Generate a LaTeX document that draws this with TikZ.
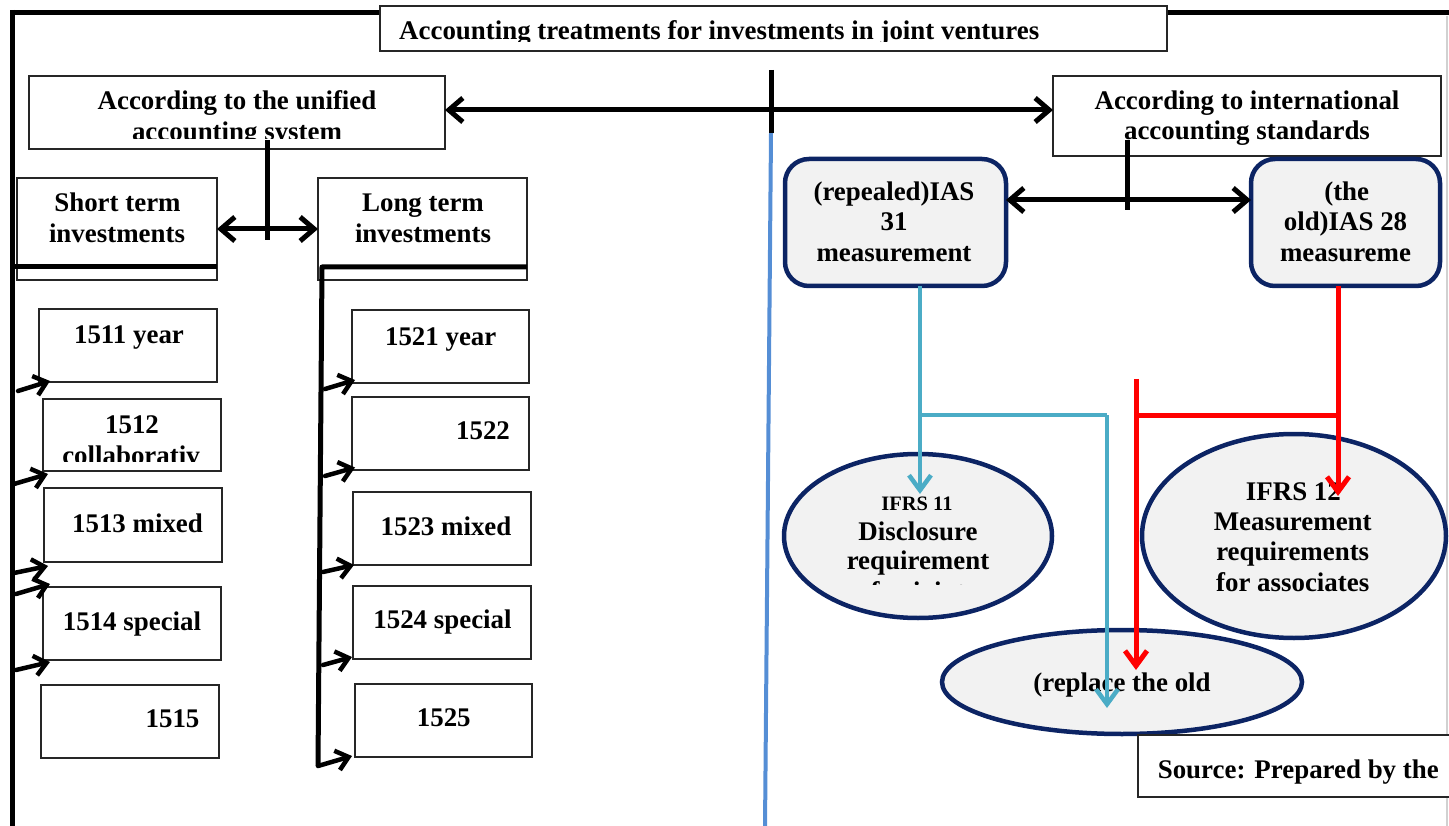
\documentclass[tikz,border=0pt]{standalone}
\usepackage{fontspec}
\setmainfont{Liberation Serif}
\usetikzlibrary{arrows.meta,shapes.geometric,fit,calc}
\definecolor{navy}{RGB}{12,36,100}
\definecolor{boxfill}{RGB}{242,242,242}
\definecolor{tealc}{RGB}{75,172,198}
\definecolor{redc}{RGB}{255,0,0}
\definecolor{bluel}{RGB}{85,142,213}
\tikzset{
 box/.style={draw=black!85, line width=1.3pt, fill=white, inner sep=0pt, outer sep=0pt},
 rbox/.style={draw=navy, line width=4.5pt, fill=boxfill, rounded corners=24pt, inner sep=0pt, outer sep=0pt},
 ell/.style={ellipse, draw=navy, line width=4.5pt, fill=boxfill, inner sep=0pt, outer sep=0pt},
 txt/.style={font=\fontsize{26.9pt}{30.5pt}\selectfont\bfseries, inner sep=0pt, anchor=base},
 stxt/.style={font=\fontsize{20.5pt}{24pt}\selectfont\bfseries, inner sep=0pt, anchor=base},
 blk/.style={line width=5pt, black},
 dbl/.style={blk, {Straight Barb[length=14pt,width=24pt]}-{Straight Barb[length=14pt,width=24pt]}, line cap=round, line join=round},
 sarr/.style={line width=4.5pt, black, -{Straight Barb[length=12pt,width=20pt]}, line cap=round, line join=round},
 tline/.style={line width=4.5pt, tealc},
 tarr/.style={tline, -{Straight Barb[length=15pt,width=22pt]}, line join=round},
 rline/.style={line width=5pt, redc},
 rarr/.style={rline, -{Straight Barb[length=15pt,width=22pt]}, line join=round},
}
\begin{document}
\begin{tikzpicture}[x=1pt,y=-1pt]
\useasboundingbox (0,0) rectangle (1449,826);

% frame
\coordinate (fTL) at (10,12.5);
\coordinate (fTR) at (1449,12.5);
\coordinate (fL) at (12,10);
\coordinate (fBL) at (12,828);
\draw[blk] (fTL) -- (fTR);
\draw[blk] (fL) -- (fBL);
\draw[black!18, line width=2pt] (1447,16) -- (1447,826);

% central tick and blue divider
\coordinate (tickTop) at (771,70);
\coordinate (tickc) at (771,110);
\coordinate (tickBot) at (771,133);
\coordinate (blueEnd) at (765,828);
\draw[bluel, line width=4pt] (tickBot) -- (blueEnd);

% ---------- boxes ----------
\node[box, fit={(380,6) (1167,51)}] (title) {};
\begin{scope}
\clip (380,0) rectangle (1167,41.8);
\node[txt, anchor=base west] (titleT) at (399,40) {Accounting treatments for investments in joint ventures};
\end{scope}

\node[box, fit={(29,76) (445,149)}] (unified) {};
\begin{scope}
\clip (29,76) rectangle (445,138.5);
\node[txt] (unifiedA) at (237,110) {According to the unified};
\node[txt] (unifiedB) at (237,140.5) {accounting system};
\end{scope}

\node[box, fit={(1053,76) (1441,156)}] (intl) {};
\node[txt] (intlA) at (1247,110) {According to international};
\node[txt] (intlB) at (1247,140) {accounting standards};

\node[box, fit={(17,178) (217,280)}] (short) {};
\node[txt] (shortA) at (117.5,212) {Short term};
\node[txt] (shortB) at (117,243) {investments};

\node[box, fit={(318,178) (527,280)}] (long) {};
\node[txt] (longA) at (423,212) {Long term};
\node[txt] (longB) at (423,243) {investments};

% left column
\node[box, fit={(39,309) (217,382)}] (b1511) {};
\node[txt] (t1511) at (129,344) {1511 year};
\node[box, fit={(43,399) (221,471)}] (b1512) {};
\node[txt] (t1512) at (132,433) {1512};
\begin{scope}
\clip (43,399) rectangle (221,461);
\node[txt] (t1512b) at (131,464) {collaborativ};
\end{scope}
\node[box, fit={(44,488) (222,562)}] (b1513) {};
\node[txt] (t1513) at (137.5,532) {1513 mixed};
\node[box, fit={(43,587) (221,660)}] (b1514) {};
\node[txt] (t1514) at (132,630) {1514 special};
\node[box, fit={(41,685) (219,758)}] (b1515) {};
\node[txt] (t1515) at (172.5,727) {1515};

% right column
\node[box, fit={(352,310) (529,383)}] (b1521) {};
\node[txt] (t1521) at (440.7,345.6) {1521 year};
\node[box, fit={(352,397) (529,470)}] (b1522) {};
\node[txt] (t1522) at (483,439.5) {1522};
\node[box, fit={(353,492) (531,565)}] (b1523) {};
\node[txt] (t1523) at (446,535) {1523 mixed};
\node[box, fit={(353,586) (531,659)}] (b1524) {};
\node[txt] (t1524) at (442.5,628) {1524 special};
\node[box, fit={(355,684) (532,757)}] (b1525) {};
\node[txt] (t1525) at (443.75,726) {1525};

% IAS boxes
\node[rbox, fit={(785,159) (1006,286)}] (ias31) {};
\node[txt] (ias31A) at (894,201) {(repealed)IAS};
\node[txt] (ias31B) at (894,231) {31};
\node[txt] (ias31C) at (894,262) {measurement};
\node[rbox, fit={(1251,159) (1440,286)}] (ias28) {};
\node[txt] (ias28A) at (1346.7,201) {(the};
\node[txt] (ias28B) at (1345.5,231) {old)IAS 28};
\node[txt] (ias28C) at (1345.5,262) {measureme};

% ellipses
\node[ell, minimum width=268pt, minimum height=164pt] (ifrs11) at (918,536) {};
\node[stxt] (ifrs11A) at (917,510) {IFRS 11};
\node[txt] (ifrs11B) at (918,540) {Disclosure};
\node[txt] (ifrs11C) at (918,569.7) {requirement};
\begin{scope}
\clip (800,575) rectangle (1040,584);
\node[txt] (ifrs11D) at (918,600) {for joint};
\end{scope}

\node[ell, minimum width=304pt, minimum height=204pt] (ifrs12) at (1294,536) {};
\node[txt] (ifrs12A) at (1293.4,500) {IFRS 12};
\node[txt] (ifrs12B) at (1292.7,530.7) {Measurement};
\node[txt] (ifrs12C) at (1292.7,560.3) {requirements};
\node[txt] (ifrs12D) at (1292.7,591) {for associates};

\node[ell, minimum width=360pt, minimum height=104pt] (replace) at (1122,682) {};
\node[txt] (replaceT) at (1122,691) {(replace the old};

\node[box, fit={(1138,735) (1460,797)}] (source) {};
\node[txt, anchor=base west] (sourceT) at (1157.6,778.6) {Source: Prepared by the};

% ---------- connectors ----------
\draw[blk] (tickTop) -- (tickBot);
\draw[dbl] (unified.east |- tickc) -- (intl.west |- tickc);

\coordinate (uTop) at (267,140);
\coordinate (uDown) at (267,240);
\draw[blk] (uTop) -- (uDown);
\draw[dbl] (short.east) -- (long.west);

% left bracket
\coordinate (lbar) at (12,267);
\draw[blk] (lbar) -- (short.east |- lbar);
\draw[sarr] (18,391) -- ($(b1511.south west)+(11,-1)$);
\draw[sarr] (14,484) -- ($(b1512.south west)+(5,3)$);
\draw[sarr] (14,573) -- ($(b1513.south west)+(4,4)$);
\draw[sarr] (16,594) -- ($(b1514.north west)+(7,-3)$);
\draw[sarr] (16,670) -- ($(b1514.south west)+(7,2)$);

% right bracket
\coordinate (rbarA) at (322,267);
\coordinate (rbarB) at (318,766);
\draw[blk, line join=round] (long.east |- rbarA) -- (rbarA) -- (rbarB);
\draw[sarr] (325,389) -- ($(b1521.south west)+(3,-3)$);
\draw[sarr] (325,476) -- ($(b1522.south west)+(3,-2.5)$);
\draw[sarr] (323,572) -- ($(b1523.south west)+(1,0)$);
\draw[sarr] (323,665) -- ($(b1524.south west)+(-1,-2)$);
\draw[sarr] (rbarB) -- ($(b1525.south west)+(-3,-1)$);

% IAS double arrow
\coordinate (iasc) at (1127,200);
\coordinate (iTop) at (1127,140);
\coordinate (iBot) at (1127,210);
\draw[dbl] (ias31.east |- iasc) -- (ias28.west |- iasc);
\draw[blk] (iTop) -- (iBot);

% teal connectors
\coordinate (tj) at (920,415);
\coordinate (tk) at (1107,415);
\coordinate (tEnd1) at (920,494);
\coordinate (tEnd2) at (1107,708);
\draw[tarr] (ias31.south -| tj) -- (tEnd1);
\draw[tline] (tj) -- (tk);
\draw[tarr] (tk) -- (tEnd2);

% red connectors
\coordinate (rj) at (1338,415);
\coordinate (rk) at (1136,415);
\coordinate (rTop) at (1136,379);
\coordinate (rEnd1) at (1338,496);
\coordinate (rEnd2) at (1136,670);
\draw[rarr] (ias28.south -| rj) -- (rEnd1);
\draw[rline] (rj) -- (rk);
\draw[rarr] (rTop) -- (rEnd2);
\end{tikzpicture}
\end{document}
